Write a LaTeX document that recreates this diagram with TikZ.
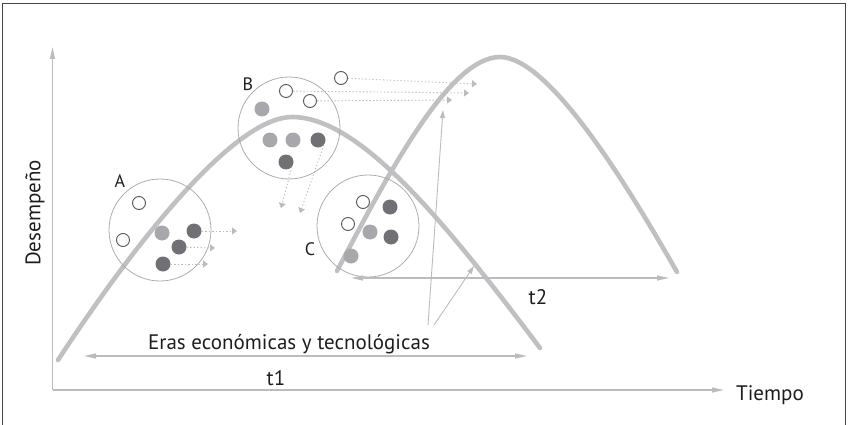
\documentclass[tikz,border=0pt]{standalone}
\usepackage{fontspec}
\setmainfont{PT Sans}
\usetikzlibrary{arrows.meta}
\definecolor{curvegray}{RGB}{192,192,195}
\definecolor{thingray}{RGB}{188,188,192}
\definecolor{darkdot}{RGB}{112,112,117}
\definecolor{lightdot}{RGB}{168,168,172}
\definecolor{opencol}{RGB}{85,85,88}
\definecolor{circcol}{RGB}{172,172,175}
\definecolor{framecol}{RGB}{70,70,70}
\definecolor{textcol}{RGB}{30,30,30}
\tikzset{
  thick curve/.style={curvegray, line width=4.6pt, line cap=round},
  axisline/.style={thingray, line width=1.3pt, -{Triangle[length=12pt,width=5pt]}},
  spanarrow/.style={thingray, line width=1.3pt, {Triangle[length=12pt,width=5pt]}-{Triangle[length=12pt,width=5pt]}},
  pointer/.style={thingray, line width=0.9pt, -{Triangle[length=8pt,width=5pt]}},
  dotarrow/.style={thingray, line width=0.9pt, dash pattern=on 1.3pt off 2.2pt, -{Triangle[length=5pt,width=7pt]}},
  bigcirc/.style={circle, draw=circcol, line width=0.8pt, minimum size=102pt, inner sep=0pt},
  opendot/.style={circle, draw=opencol, fill=white, line width=0.9pt, minimum size=13pt, inner sep=0pt},
  darkd/.style={circle, fill=darkdot, minimum size=15pt, inner sep=0pt},
  lightd/.style={circle, fill=lightdot, minimum size=15pt, inner sep=0pt},
  lbl/.style={text=textcol, font=\fontsize{21}{24}\selectfont, inner sep=0pt},
  letter/.style={text=textcol, font=\fontsize{18}{20}\selectfont, inner sep=0pt},
}
\begin{document}
\begin{tikzpicture}[x=1pt,y=-1pt]
\useasboundingbox (0,0) rectangle (848,425);
% frame
\draw[framecol, line width=1pt] (2.5,430) -- (2.5,3.5) -- (845.3,3.5) -- (845.3,430);

% axes
\coordinate (O) at (52.5,390);
\coordinate (ytop) at (52.5,47);
\coordinate (xend) at (724,390);
\draw[axisline] (O) -- (ytop);
\draw[axisline] (O) -- (xend);
\node[lbl, rotate=90] (ylab) at (35,213) {Desempeño};
\node[lbl, anchor=base west] (xlab) at (736,400) {Tiempo};

% curves
\coordinate (c1s) at (58,360);
\coordinate (c1p) at (292,117);
\coordinate (c1e) at (540,348);
\draw[thick curve] (c1s) .. controls (150,220) and (240,117) .. (c1p)
   .. controls (360,117) and (445,222) .. (c1e);
\coordinate (c2s) at (337,271);
\coordinate (c2p) at (500,57);
\coordinate (c2e) at (677,272);
\draw[thick curve] (c2s) .. controls (390,170) and (450,57) .. (c2p)
   .. controls (550,57) and (630,190) .. (c2e);

% circle A
\node[bigcirc] (Acirc) at (160,230) {};
\node[letter] (Alab) at (120,181) {A};
\node[opendot] (Ao1) at (139,203) {};
\node[opendot] (Ao2) at (123,240) {};
\node[lightd] (Al1) at (162,233) {};
\node[darkd] (Ad1) at (194,231) {};
\node[darkd] (Ad2) at (179,247) {};
\node[darkd] (Ad3) at (163,264) {};
\coordinate (At1) at (237,231);
\coordinate (At2) at (215,248);
\coordinate (At3) at (208,264);
\draw[dotarrow] (Ad1) -- (At1);
\draw[dotarrow] (Ad2) -- (At2);
\draw[dotarrow] (Ad3) -- (At3);

% circle B
\node[bigcirc] (Bcirc) at (289,128) {};
\node[letter] (Blab) at (248,84) {B};
\node[opendot] (Bo1) at (286,91) {};
\node[opendot] (Bo2) at (310,101) {};
\node[opendot] (Bo3) at (341,78) {};
\node[lightd] (Bl1) at (262,109) {};
\node[lightd] (Bl2) at (270,140) {};
\node[lightd] (Bl3) at (293,140) {};
\node[darkd] (Bd1) at (318,140) {};
\node[darkd] (Bd2) at (286,162) {};
\coordinate (Bt1) at (300,213);
\coordinate (Bt2) at (281,208);
\coordinate (Bt3) at (477,84);
\coordinate (Bt4) at (469,93);
\coordinate (Bt5) at (452,100);
\draw[dotarrow] (Bd1.-40) -- (Bt1);
\draw[dotarrow] (Bd2.-40) -- (Bt2);
\draw[dotarrow] (Bo3) -- (Bt3);
\draw[dotarrow] (Bo1) -- (Bt4);
\draw[dotarrow] (Bo2) -- (Bt5);

% circle C
\node[bigcirc] (Ccirc) at (368,226) {};
\node[letter] (Clab) at (310,249) {C};
\node[opendot] (Co1) at (363,202) {};
\node[opendot] (Co2) at (348,224) {};
\node[darkd] (Cd1) at (390,207) {};
\node[lightd] (Cl1) at (370,232) {};
\node[darkd] (Cd2) at (391,237) {};
\node[lightd] (Cl2) at (351,256) {};

% spans
\coordinate (t1l) at (84,356);
\coordinate (t1r) at (527,356);
\draw[spanarrow] (t1l) -- (t1r);
\node[lbl] (t1lab) at (276,378) {t1};
\coordinate (t2l) at (351,278);
\coordinate (t2r) at (669,278);
\draw[spanarrow] (t2l) -- (t2r);
\node[lbl] (t2lab) at (538,297) {t2};

% eras
\node[lbl, anchor=base] (eras) at (289,349) {Eras económicas y tecnológicas};
\coordinate (p1s) at (428,325);
\coordinate (p2s) at (434,325);
\coordinate (p1e) at (443,110);
\coordinate (p2e) at (474,266);
\draw[pointer] (p1s) -- (p1e);
\draw[pointer] (p2s) -- (p2e);
\end{tikzpicture}
\end{document}
